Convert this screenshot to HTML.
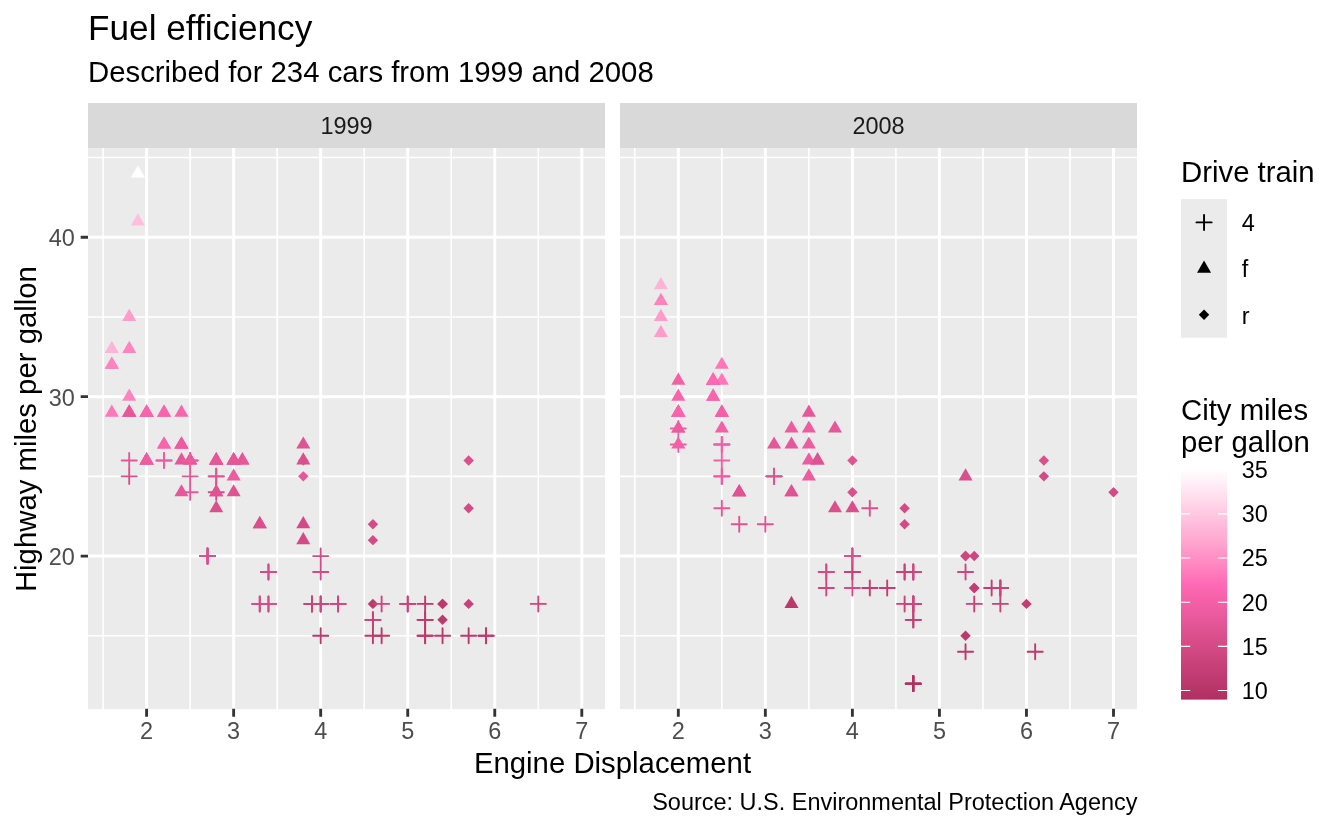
<!DOCTYPE html>
<html lang="en"><head><meta charset="utf-8"><title>Fuel efficiency</title>
<style>html,body{margin:0;padding:0;background:#fff}svg{display:block}text{font-family:"Liberation Sans",Arial,Helvetica,sans-serif}</style></head><body>
<svg width="1344" height="830" viewBox="0 0 1344 830">
<rect width="1344" height="830" fill="#FFFFFF"/>
<text x="88" y="39.8" font-size="35.2" fill="#000">Fuel efficiency</text>
<text x="88" y="81.7" font-size="29.33" fill="#000">Described for 234 cars from 1999 and 2008</text>
<g>
<rect x="88.0" y="103" width="517.0" height="45" fill="#D9D9D9"/>
<text x="346.5" y="133.9" font-size="23.47" fill="#1A1A1A" text-anchor="middle">1999</text>
<rect x="88.0" y="148.0" width="517.0" height="561.1" fill="#EBEBEB"/>
<path d="M88.0 635.77H605.0M88.0 476.37H605.0M88.0 316.97H605.0M88.0 157.56H605.0M103.10 148.0V709.1M190.13 148.0V709.1M277.17 148.0V709.1M364.21 148.0V709.1M451.24 148.0V709.1M538.28 148.0V709.1" stroke="#FFFFFF" stroke-width="1.60" fill="none"/>
<path d="M88.0 556.07H605.0M88.0 396.67H605.0M88.0 237.27H605.0M146.61 148.0V709.1M233.65 148.0V709.1M320.69 148.0V709.1M407.73 148.0V709.1M494.76 148.0V709.1M581.80 148.0V709.1" stroke="#FFFFFF" stroke-width="2.95" fill="none"/>
<g>
<path d="M129.21 404.50L136.23 416.66L122.19 416.66Z" fill="#E65799" stroke="#E65799" stroke-width="0.00" stroke-linejoin="round"/>
<path d="M129.21 404.50L136.23 416.66L122.19 416.66Z" fill="#F965AD" stroke="#F965AD" stroke-width="0.00" stroke-linejoin="round"/>
<path d="M216.24 452.32L223.26 464.48L209.22 464.48Z" fill="#DA4F8C" stroke="#DA4F8C" stroke-width="0.00" stroke-linejoin="round"/>
<path d="M216.24 452.32L223.26 464.48L209.22 464.48Z" fill="#E65799" stroke="#E65799" stroke-width="0.00" stroke-linejoin="round"/>
<path d="M121.64 460.43H136.78M129.21 452.86V468.00" stroke="#E65799" stroke-width="1.89" stroke-linecap="round" fill="none"/>
<path d="M121.64 476.37H136.78M129.21 468.80V483.94" stroke="#DA4F8C" stroke-width="1.89" stroke-linecap="round" fill="none"/>
<path d="M208.67 476.37H223.82M216.24 468.80V483.94" stroke="#D44A86" stroke-width="1.89" stroke-linecap="round" fill="none"/>
<path d="M208.67 476.37H223.82M216.24 468.80V483.94" stroke="#E05393" stroke-width="1.89" stroke-linecap="round" fill="none"/>
<path d="M208.67 492.31H223.82M216.24 484.74V499.88" stroke="#D44A86" stroke-width="1.89" stroke-linecap="round" fill="none"/>
<path d="M463.44 603.89L468.65 598.68L473.86 603.89L468.65 609.11Z" fill="#C84279"/>
<path d="M463.44 460.43L468.65 455.22L473.86 460.43L468.65 465.64Z" fill="#DA4F8C"/>
<path d="M463.44 508.25L468.65 503.04L473.86 508.25L468.65 513.46Z" fill="#D44A86"/>
<path d="M461.08 635.77H476.22M468.65 628.20V643.35" stroke="#BC396C" stroke-width="1.89" stroke-linecap="round" fill="none"/>
<path d="M530.71 603.89H545.85M538.28 596.32V611.47" stroke="#CE467F" stroke-width="1.89" stroke-linecap="round" fill="none"/>
<path d="M181.43 436.38L188.45 448.54L174.41 448.54Z" fill="#ED5CA0" stroke="#ED5CA0" stroke-width="0.00" stroke-linejoin="round"/>
<path d="M242.36 452.32L249.38 464.48L235.34 464.48Z" fill="#E65799" stroke="#E65799" stroke-width="0.00" stroke-linejoin="round"/>
<path d="M181.43 484.21L188.45 496.36L174.41 496.36Z" fill="#E65799" stroke="#E65799" stroke-width="0.00" stroke-linejoin="round"/>
<path d="M233.65 484.21L240.67 496.36L226.63 496.36Z" fill="#E05393" stroke="#E05393" stroke-width="0.00" stroke-linejoin="round"/>
<path d="M259.76 516.09L266.78 528.25L252.74 528.25Z" fill="#DA4F8C" stroke="#DA4F8C" stroke-width="0.00" stroke-linejoin="round"/>
<path d="M259.76 516.09L266.78 528.25L252.74 528.25Z" fill="#DA4F8C" stroke="#DA4F8C" stroke-width="0.00" stroke-linejoin="round"/>
<path d="M303.28 516.09L310.30 528.25L296.26 528.25Z" fill="#D44A86" stroke="#D44A86" stroke-width="0.00" stroke-linejoin="round"/>
<path d="M303.28 532.03L310.30 544.19L296.26 544.19Z" fill="#D44A86" stroke="#D44A86" stroke-width="0.00" stroke-linejoin="round"/>
<path d="M304.41 603.89H319.56M311.99 596.32V611.47" stroke="#C84279" stroke-width="1.89" stroke-linecap="round" fill="none"/>
<path d="M304.41 603.89H319.56M311.99 596.32V611.47" stroke="#CE467F" stroke-width="1.89" stroke-linecap="round" fill="none"/>
<path d="M417.56 603.89H432.70M425.13 596.32V611.47" stroke="#BC396C" stroke-width="1.89" stroke-linecap="round" fill="none"/>
<path d="M417.56 635.77H432.70M425.13 628.20V643.35" stroke="#BC396C" stroke-width="1.89" stroke-linecap="round" fill="none"/>
<path d="M304.41 603.89H319.56M311.99 596.32V611.47" stroke="#C84279" stroke-width="1.89" stroke-linecap="round" fill="none"/>
<path d="M417.56 619.83H432.70M425.13 612.26V627.41" stroke="#BC396C" stroke-width="1.89" stroke-linecap="round" fill="none"/>
<path d="M478.49 635.77H493.63M486.06 628.20V643.35" stroke="#BC396C" stroke-width="1.89" stroke-linecap="round" fill="none"/>
<path d="M417.56 635.77H432.70M425.13 628.20V643.35" stroke="#BC396C" stroke-width="1.89" stroke-linecap="round" fill="none"/>
<path d="M417.56 619.83H432.70M425.13 612.26V627.41" stroke="#BC396C" stroke-width="1.89" stroke-linecap="round" fill="none"/>
<path d="M478.49 635.77H493.63M486.06 628.20V643.35" stroke="#BC396C" stroke-width="1.89" stroke-linecap="round" fill="none"/>
<path d="M367.70 603.89L372.91 598.68L378.12 603.89L372.91 609.11Z" fill="#BC396C"/>
<path d="M437.33 603.89L442.54 598.68L447.75 603.89L442.54 609.11Z" fill="#BC396C"/>
<path d="M313.12 603.89H328.26M320.69 596.32V611.47" stroke="#CE467F" stroke-width="1.89" stroke-linecap="round" fill="none"/>
<path d="M313.12 572.01H328.26M320.69 564.44V579.58" stroke="#D44A86" stroke-width="1.89" stroke-linecap="round" fill="none"/>
<path d="M313.12 603.89H328.26M320.69 596.32V611.47" stroke="#CE467F" stroke-width="1.89" stroke-linecap="round" fill="none"/>
<path d="M400.15 603.89H415.30M407.73 596.32V611.47" stroke="#C84279" stroke-width="1.89" stroke-linecap="round" fill="none"/>
<path d="M330.52 603.89H345.67M338.10 596.32V611.47" stroke="#CE467F" stroke-width="1.89" stroke-linecap="round" fill="none"/>
<path d="M330.52 603.89H345.67M338.10 596.32V611.47" stroke="#CE467F" stroke-width="1.89" stroke-linecap="round" fill="none"/>
<path d="M365.34 619.83H380.48M372.91 612.26V627.41" stroke="#C84279" stroke-width="1.89" stroke-linecap="round" fill="none"/>
<path d="M365.34 619.83H380.48M372.91 612.26V627.41" stroke="#C84279" stroke-width="1.89" stroke-linecap="round" fill="none"/>
<path d="M434.97 635.77H450.11M442.54 628.20V643.35" stroke="#BC396C" stroke-width="1.89" stroke-linecap="round" fill="none"/>
<path d="M298.07 460.43L303.28 455.22L308.49 460.43L303.28 465.64Z" fill="#E65799"/>
<path d="M298.07 476.37L303.28 471.16L308.49 476.37L303.28 481.58Z" fill="#E65799"/>
<path d="M367.70 540.13L372.91 534.92L378.12 540.13L372.91 545.34Z" fill="#D44A86"/>
<path d="M367.70 524.19L372.91 518.98L378.12 524.19L372.91 529.40Z" fill="#D44A86"/>
<path d="M111.80 340.74L118.82 352.90L104.78 352.90Z" fill="#FFB3D6" stroke="#FFB3D6" stroke-width="0.00" stroke-linejoin="round"/>
<path d="M111.80 356.68L118.82 368.84L104.78 368.84Z" fill="#FF83BF" stroke="#FF83BF" stroke-width="0.00" stroke-linejoin="round"/>
<path d="M111.80 356.68L118.82 368.84L104.78 368.84Z" fill="#FF90C5" stroke="#FF90C5" stroke-width="0.00" stroke-linejoin="round"/>
<path d="M111.80 404.50L118.82 416.66L104.78 416.66Z" fill="#FF77BA" stroke="#FF77BA" stroke-width="0.00" stroke-linejoin="round"/>
<path d="M111.80 356.68L118.82 368.84L104.78 368.84Z" fill="#FF83BF" stroke="#FF83BF" stroke-width="0.00" stroke-linejoin="round"/>
<path d="M181.43 452.32L188.45 464.48L174.41 464.48Z" fill="#E65799" stroke="#E65799" stroke-width="0.00" stroke-linejoin="round"/>
<path d="M181.43 436.38L188.45 448.54L174.41 448.54Z" fill="#E65799" stroke="#E65799" stroke-width="0.00" stroke-linejoin="round"/>
<path d="M190.13 452.32L197.15 464.48L183.11 464.48Z" fill="#E65799" stroke="#E65799" stroke-width="0.00" stroke-linejoin="round"/>
<path d="M190.13 452.32L197.15 464.48L183.11 464.48Z" fill="#E65799" stroke="#E65799" stroke-width="0.00" stroke-linejoin="round"/>
<path d="M146.61 452.32L153.63 464.48L139.59 464.48Z" fill="#ED5CA0" stroke="#ED5CA0" stroke-width="0.00" stroke-linejoin="round"/>
<path d="M146.61 404.50L153.63 416.66L139.59 416.66Z" fill="#ED5CA0" stroke="#ED5CA0" stroke-width="0.00" stroke-linejoin="round"/>
<path d="M313.12 556.07H328.26M320.69 548.50V563.64" stroke="#D44A86" stroke-width="1.89" stroke-linecap="round" fill="none"/>
<path d="M374.04 603.89H389.19M381.61 596.32V611.47" stroke="#CE467F" stroke-width="1.89" stroke-linecap="round" fill="none"/>
<path d="M313.12 635.77H328.26M320.69 628.20V643.35" stroke="#BC396C" stroke-width="1.89" stroke-linecap="round" fill="none"/>
<path d="M365.34 635.77H380.48M372.91 628.20V643.35" stroke="#BC396C" stroke-width="1.89" stroke-linecap="round" fill="none"/>
<path d="M437.33 603.89L442.54 598.68L447.75 603.89L442.54 609.11Z" fill="#BC396C"/>
<path d="M437.33 619.83L442.54 614.62L447.75 619.83L442.54 625.05Z" fill="#BC396C"/>
<path d="M313.12 603.89H328.26M320.69 596.32V611.47" stroke="#CE467F" stroke-width="1.89" stroke-linecap="round" fill="none"/>
<path d="M400.15 603.89H415.30M407.73 596.32V611.47" stroke="#C84279" stroke-width="1.89" stroke-linecap="round" fill="none"/>
<path d="M181.43 404.50L188.45 416.66L174.41 416.66Z" fill="#F965AD" stroke="#F965AD" stroke-width="0.00" stroke-linejoin="round"/>
<path d="M181.43 436.38L188.45 448.54L174.41 448.54Z" fill="#ED5CA0" stroke="#ED5CA0" stroke-width="0.00" stroke-linejoin="round"/>
<path d="M233.65 452.32L240.67 464.48L226.63 464.48Z" fill="#E65799" stroke="#E65799" stroke-width="0.00" stroke-linejoin="round"/>
<path d="M233.65 468.26L240.67 480.42L226.63 480.42Z" fill="#ED5CA0" stroke="#ED5CA0" stroke-width="0.00" stroke-linejoin="round"/>
<path d="M252.19 603.89H267.33M259.76 596.32V611.47" stroke="#CE467F" stroke-width="1.89" stroke-linecap="round" fill="none"/>
<path d="M252.19 603.89H267.33M259.76 596.32V611.47" stroke="#D44A86" stroke-width="1.89" stroke-linecap="round" fill="none"/>
<path d="M242.36 452.32L249.38 464.48L235.34 464.48Z" fill="#E65799" stroke="#E65799" stroke-width="0.00" stroke-linejoin="round"/>
<path d="M303.28 452.32L310.30 464.48L296.26 464.48Z" fill="#DA4F8C" stroke="#DA4F8C" stroke-width="0.00" stroke-linejoin="round"/>
<path d="M303.28 436.38L310.30 448.54L296.26 448.54Z" fill="#E05393" stroke="#E05393" stroke-width="0.00" stroke-linejoin="round"/>
<path d="M182.56 476.37H197.70M190.13 468.80V483.94" stroke="#E65799" stroke-width="1.89" stroke-linecap="round" fill="none"/>
<path d="M182.56 492.31H197.70M190.13 484.74V499.88" stroke="#E65799" stroke-width="1.89" stroke-linecap="round" fill="none"/>
<path d="M156.45 460.43H171.59M164.02 452.86V468.00" stroke="#F965AD" stroke-width="1.89" stroke-linecap="round" fill="none"/>
<path d="M156.45 460.43H171.59M164.02 452.86V468.00" stroke="#ED5CA0" stroke-width="1.89" stroke-linecap="round" fill="none"/>
<path d="M182.56 460.43H197.70M190.13 452.86V468.00" stroke="#ED5CA0" stroke-width="1.89" stroke-linecap="round" fill="none"/>
<path d="M182.56 460.43H197.70M190.13 452.86V468.00" stroke="#ED5CA0" stroke-width="1.89" stroke-linecap="round" fill="none"/>
<path d="M199.97 556.07H215.11M207.54 548.50V563.64" stroke="#D44A86" stroke-width="1.89" stroke-linecap="round" fill="none"/>
<path d="M199.97 556.07H215.11M207.54 548.50V563.64" stroke="#DA4F8C" stroke-width="1.89" stroke-linecap="round" fill="none"/>
<path d="M260.90 572.01H276.04M268.47 564.44V579.58" stroke="#D44A86" stroke-width="1.89" stroke-linecap="round" fill="none"/>
<path d="M260.90 603.89H276.04M268.47 596.32V611.47" stroke="#D44A86" stroke-width="1.89" stroke-linecap="round" fill="none"/>
<path d="M164.02 404.50L171.04 416.66L157.00 416.66Z" fill="#F965AD" stroke="#F965AD" stroke-width="0.00" stroke-linejoin="round"/>
<path d="M164.02 436.38L171.04 448.54L157.00 448.54Z" fill="#F965AD" stroke="#F965AD" stroke-width="0.00" stroke-linejoin="round"/>
<path d="M233.65 452.32L240.67 464.48L226.63 464.48Z" fill="#E65799" stroke="#E65799" stroke-width="0.00" stroke-linejoin="round"/>
<path d="M233.65 452.32L240.67 464.48L226.63 464.48Z" fill="#E65799" stroke="#E65799" stroke-width="0.00" stroke-linejoin="round"/>
<path d="M164.02 436.38L171.04 448.54L157.00 448.54Z" fill="#F965AD" stroke="#F965AD" stroke-width="0.00" stroke-linejoin="round"/>
<path d="M164.02 404.50L171.04 416.66L157.00 416.66Z" fill="#F965AD" stroke="#F965AD" stroke-width="0.00" stroke-linejoin="round"/>
<path d="M233.65 452.32L240.67 464.48L226.63 464.48Z" fill="#E65799" stroke="#E65799" stroke-width="0.00" stroke-linejoin="round"/>
<path d="M233.65 452.32L240.67 464.48L226.63 464.48Z" fill="#E65799" stroke="#E65799" stroke-width="0.00" stroke-linejoin="round"/>
<path d="M129.21 388.56L136.23 400.72L122.19 400.72Z" fill="#FF83BF" stroke="#FF83BF" stroke-width="0.00" stroke-linejoin="round"/>
<path d="M129.21 340.74L136.23 352.90L122.19 352.90Z" fill="#FF83BF" stroke="#FF83BF" stroke-width="0.00" stroke-linejoin="round"/>
<path d="M129.21 308.86L136.23 321.02L122.19 321.02Z" fill="#FF9CCB" stroke="#FF9CCB" stroke-width="0.00" stroke-linejoin="round"/>
<path d="M374.04 635.77H389.19M381.61 628.20V643.35" stroke="#BC396C" stroke-width="1.89" stroke-linecap="round" fill="none"/>
<path d="M199.97 556.07H215.11M207.54 548.50V563.64" stroke="#D44A86" stroke-width="1.89" stroke-linecap="round" fill="none"/>
<path d="M199.97 556.07H215.11M207.54 548.50V563.64" stroke="#DA4F8C" stroke-width="1.89" stroke-linecap="round" fill="none"/>
<path d="M260.90 603.89H276.04M268.47 596.32V611.47" stroke="#D44A86" stroke-width="1.89" stroke-linecap="round" fill="none"/>
<path d="M260.90 572.01H276.04M268.47 564.44V579.58" stroke="#D44A86" stroke-width="1.89" stroke-linecap="round" fill="none"/>
<path d="M146.61 404.50L153.63 416.66L139.59 416.66Z" fill="#F965AD" stroke="#F965AD" stroke-width="0.00" stroke-linejoin="round"/>
<path d="M146.61 452.32L153.63 464.48L139.59 464.48Z" fill="#ED5CA0" stroke="#ED5CA0" stroke-width="0.00" stroke-linejoin="round"/>
<path d="M216.24 484.21L223.26 496.36L209.22 496.36Z" fill="#E05393" stroke="#E05393" stroke-width="0.00" stroke-linejoin="round"/>
<path d="M137.91 165.40L144.93 177.56L130.89 177.56Z" fill="#FFEAF3" stroke="#FFEAF3" stroke-width="0.00" stroke-linejoin="round"/>
<path d="M146.61 404.50L153.63 416.66L139.59 416.66Z" fill="#F965AD" stroke="#F965AD" stroke-width="0.00" stroke-linejoin="round"/>
<path d="M146.61 452.32L153.63 464.48L139.59 464.48Z" fill="#ED5CA0" stroke="#ED5CA0" stroke-width="0.00" stroke-linejoin="round"/>
<path d="M216.24 500.15L223.26 512.30L209.22 512.30Z" fill="#DA4F8C" stroke="#DA4F8C" stroke-width="0.00" stroke-linejoin="round"/>
<path d="M216.24 484.21L223.26 496.36L209.22 496.36Z" fill="#E05393" stroke="#E05393" stroke-width="0.00" stroke-linejoin="round"/>
<path d="M137.91 165.40L144.93 177.56L130.89 177.56Z" fill="#FFFFFF" stroke="#FFFFFF" stroke-width="0.00" stroke-linejoin="round"/>
<path d="M137.91 213.22L144.93 225.38L130.89 225.38Z" fill="#FFBEDC" stroke="#FFBEDC" stroke-width="0.00" stroke-linejoin="round"/>
<path d="M146.61 404.50L153.63 416.66L139.59 416.66Z" fill="#F965AD" stroke="#F965AD" stroke-width="0.00" stroke-linejoin="round"/>
<path d="M146.61 452.32L153.63 464.48L139.59 464.48Z" fill="#ED5CA0" stroke="#ED5CA0" stroke-width="0.00" stroke-linejoin="round"/>
<path d="M129.21 404.50L136.23 416.66L122.19 416.66Z" fill="#F965AD" stroke="#F965AD" stroke-width="0.00" stroke-linejoin="round"/>
<path d="M129.21 404.50L136.23 416.66L122.19 416.66Z" fill="#E65799" stroke="#E65799" stroke-width="0.00" stroke-linejoin="round"/>
<path d="M216.24 452.32L223.26 464.48L209.22 464.48Z" fill="#DA4F8C" stroke="#DA4F8C" stroke-width="0.00" stroke-linejoin="round"/>
<path d="M216.24 452.32L223.26 464.48L209.22 464.48Z" fill="#E65799" stroke="#E65799" stroke-width="0.00" stroke-linejoin="round"/>
</g>
<text x="146.61" y="738.9" font-size="23.47" fill="#4D4D4D" text-anchor="middle">2</text>
<text x="233.65" y="738.9" font-size="23.47" fill="#4D4D4D" text-anchor="middle">3</text>
<text x="320.69" y="738.9" font-size="23.47" fill="#4D4D4D" text-anchor="middle">4</text>
<text x="407.73" y="738.9" font-size="23.47" fill="#4D4D4D" text-anchor="middle">5</text>
<text x="494.76" y="738.9" font-size="23.47" fill="#4D4D4D" text-anchor="middle">6</text>
<text x="581.80" y="738.9" font-size="23.47" fill="#4D4D4D" text-anchor="middle">7</text>
<path d="M146.61 708.8V716.7M233.65 708.8V716.7M320.69 708.8V716.7M407.73 708.8V716.7M494.76 708.8V716.7M581.80 708.8V716.7" stroke="#333333" stroke-width="2.85" fill="none"/>
</g>
<g>
<rect x="620.0" y="103" width="517.0" height="45" fill="#D9D9D9"/>
<text x="878.5" y="133.9" font-size="23.47" fill="#1A1A1A" text-anchor="middle">2008</text>
<rect x="620.0" y="148.0" width="517.0" height="561.1" fill="#EBEBEB"/>
<path d="M620.0 635.77H1137.0M620.0 476.37H1137.0M620.0 316.97H1137.0M620.0 157.56H1137.0M634.80 148.0V709.1M721.83 148.0V709.1M808.87 148.0V709.1M895.91 148.0V709.1M982.94 148.0V709.1M1069.98 148.0V709.1" stroke="#FFFFFF" stroke-width="1.60" fill="none"/>
<path d="M620.0 556.07H1137.0M620.0 396.67H1137.0M620.0 237.27H1137.0M678.31 148.0V709.1M765.35 148.0V709.1M852.39 148.0V709.1M939.43 148.0V709.1M1026.46 148.0V709.1M1113.50 148.0V709.1" stroke="#FFFFFF" stroke-width="2.95" fill="none"/>
<g>
<path d="M678.31 372.62L685.33 384.78L671.29 384.78Z" fill="#F360A6" stroke="#F360A6" stroke-width="0.00" stroke-linejoin="round"/>
<path d="M678.31 388.56L685.33 400.72L671.29 400.72Z" fill="#F965AD" stroke="#F965AD" stroke-width="0.00" stroke-linejoin="round"/>
<path d="M774.06 436.38L781.08 448.54L767.04 448.54Z" fill="#E65799" stroke="#E65799" stroke-width="0.00" stroke-linejoin="round"/>
<path d="M670.74 428.55H685.89M678.31 420.98V436.12" stroke="#F360A6" stroke-width="1.89" stroke-linecap="round" fill="none"/>
<path d="M670.74 444.49H685.89M678.31 436.92V452.06" stroke="#ED5CA0" stroke-width="1.89" stroke-linecap="round" fill="none"/>
<path d="M766.48 476.37H781.63M774.06 468.80V483.94" stroke="#E05393" stroke-width="1.89" stroke-linecap="round" fill="none"/>
<path d="M766.48 476.37H781.63M774.06 468.80V483.94" stroke="#D44A86" stroke-width="1.89" stroke-linecap="round" fill="none"/>
<path d="M766.48 476.37H781.63M774.06 468.80V483.94" stroke="#E05393" stroke-width="1.89" stroke-linecap="round" fill="none"/>
<path d="M862.22 508.25H877.37M869.80 500.68V515.82" stroke="#DA4F8C" stroke-width="1.89" stroke-linecap="round" fill="none"/>
<path d="M960.32 556.07L965.54 550.86L970.75 556.07L965.54 561.29Z" fill="#CE467F"/>
<path d="M960.32 635.77L965.54 630.56L970.75 635.77L965.54 640.99Z" fill="#BC396C"/>
<path d="M960.32 556.07L965.54 550.86L970.75 556.07L965.54 561.29Z" fill="#CE467F"/>
<path d="M1021.25 603.89L1026.46 598.68L1031.68 603.89L1026.46 609.11Z" fill="#C23D73"/>
<path d="M1038.66 460.43L1043.87 455.22L1049.08 460.43L1043.87 465.64Z" fill="#DA4F8C"/>
<path d="M1038.66 476.37L1043.87 471.16L1049.08 476.37L1043.87 481.58Z" fill="#D44A86"/>
<path d="M1108.29 492.31L1113.50 487.10L1118.71 492.31L1113.50 497.52Z" fill="#D44A86"/>
<path d="M957.97 572.01H973.11M965.54 564.44V579.58" stroke="#CE467F" stroke-width="1.89" stroke-linecap="round" fill="none"/>
<path d="M957.97 651.71H973.11M965.54 644.14V659.29" stroke="#BC396C" stroke-width="1.89" stroke-linecap="round" fill="none"/>
<path d="M713.13 388.56L720.15 400.72L706.11 400.72Z" fill="#FF69B4" stroke="#FF69B4" stroke-width="0.00" stroke-linejoin="round"/>
<path d="M808.87 404.50L815.89 416.66L801.85 416.66Z" fill="#E65799" stroke="#E65799" stroke-width="0.00" stroke-linejoin="round"/>
<path d="M817.57 452.32L824.59 464.48L810.55 464.48Z" fill="#E05393" stroke="#E05393" stroke-width="0.00" stroke-linejoin="round"/>
<path d="M791.46 484.21L798.48 496.36L784.44 496.36Z" fill="#E05393" stroke="#E05393" stroke-width="0.00" stroke-linejoin="round"/>
<path d="M791.46 484.21L798.48 496.36L784.44 496.36Z" fill="#E05393" stroke="#E05393" stroke-width="0.00" stroke-linejoin="round"/>
<path d="M791.46 595.79L798.48 607.95L784.44 607.95Z" fill="#BC396C" stroke="#BC396C" stroke-width="0.00" stroke-linejoin="round"/>
<path d="M834.98 500.15L842.00 512.30L827.96 512.30Z" fill="#DA4F8C" stroke="#DA4F8C" stroke-width="0.00" stroke-linejoin="round"/>
<path d="M852.39 500.15L859.41 512.30L845.37 512.30Z" fill="#DA4F8C" stroke="#DA4F8C" stroke-width="0.00" stroke-linejoin="round"/>
<path d="M818.71 572.01H833.85M826.28 564.44V579.58" stroke="#D44A86" stroke-width="1.89" stroke-linecap="round" fill="none"/>
<path d="M818.71 587.95H833.85M826.28 580.38V595.52" stroke="#CE467F" stroke-width="1.89" stroke-linecap="round" fill="none"/>
<path d="M905.74 572.01H920.89M913.31 564.44V579.58" stroke="#CE467F" stroke-width="1.89" stroke-linecap="round" fill="none"/>
<path d="M905.74 572.01H920.89M913.31 564.44V579.58" stroke="#CE467F" stroke-width="1.89" stroke-linecap="round" fill="none"/>
<path d="M905.74 683.60H920.89M913.31 676.02V691.17" stroke="#B03060" stroke-width="1.89" stroke-linecap="round" fill="none"/>
<path d="M905.74 603.89H920.89M913.31 596.32V611.47" stroke="#C84279" stroke-width="1.89" stroke-linecap="round" fill="none"/>
<path d="M905.74 683.60H920.89M913.31 676.02V691.17" stroke="#B03060" stroke-width="1.89" stroke-linecap="round" fill="none"/>
<path d="M905.74 603.89H920.89M913.31 596.32V611.47" stroke="#C84279" stroke-width="1.89" stroke-linecap="round" fill="none"/>
<path d="M992.78 587.95H1007.92M1000.35 580.38V595.52" stroke="#C84279" stroke-width="1.89" stroke-linecap="round" fill="none"/>
<path d="M905.74 619.83H920.89M913.31 612.26V627.41" stroke="#C23D73" stroke-width="1.89" stroke-linecap="round" fill="none"/>
<path d="M905.74 683.60H920.89M913.31 676.02V691.17" stroke="#B03060" stroke-width="1.89" stroke-linecap="round" fill="none"/>
<path d="M905.74 603.89H920.89M913.31 596.32V611.47" stroke="#C84279" stroke-width="1.89" stroke-linecap="round" fill="none"/>
<path d="M905.74 603.89H920.89M913.31 596.32V611.47" stroke="#C84279" stroke-width="1.89" stroke-linecap="round" fill="none"/>
<path d="M905.74 619.83H920.89M913.31 612.26V627.41" stroke="#C23D73" stroke-width="1.89" stroke-linecap="round" fill="none"/>
<path d="M905.74 683.60H920.89M913.31 676.02V691.17" stroke="#B03060" stroke-width="1.89" stroke-linecap="round" fill="none"/>
<path d="M992.78 603.89H1007.92M1000.35 596.32V611.47" stroke="#C84279" stroke-width="1.89" stroke-linecap="round" fill="none"/>
<path d="M969.03 587.95L974.24 582.74L979.45 587.95L974.24 593.17Z" fill="#C23D73"/>
<path d="M844.82 572.01H859.96M852.39 564.44V579.58" stroke="#C84279" stroke-width="1.89" stroke-linecap="round" fill="none"/>
<path d="M897.04 572.01H912.18M904.61 564.44V579.58" stroke="#C84279" stroke-width="1.89" stroke-linecap="round" fill="none"/>
<path d="M897.04 603.89H912.18M904.61 596.32V611.47" stroke="#C84279" stroke-width="1.89" stroke-linecap="round" fill="none"/>
<path d="M966.67 603.89H981.81M974.24 596.32V611.47" stroke="#C84279" stroke-width="1.89" stroke-linecap="round" fill="none"/>
<path d="M847.18 460.43L852.39 455.22L857.60 460.43L852.39 465.64Z" fill="#E05393"/>
<path d="M847.18 492.31L852.39 487.10L857.60 492.31L852.39 497.52Z" fill="#DA4F8C"/>
<path d="M899.40 508.25L904.61 503.04L909.82 508.25L904.61 513.46Z" fill="#D44A86"/>
<path d="M899.40 524.19L904.61 518.98L909.82 524.19L904.61 529.40Z" fill="#D44A86"/>
<path d="M969.03 556.07L974.24 550.86L979.45 556.07L974.24 561.29Z" fill="#CE467F"/>
<path d="M660.91 324.80L667.93 336.96L653.89 336.96Z" fill="#FF9CCB" stroke="#FF9CCB" stroke-width="0.00" stroke-linejoin="round"/>
<path d="M660.91 292.92L667.93 305.08L653.89 305.08Z" fill="#FF90C5" stroke="#FF90C5" stroke-width="0.00" stroke-linejoin="round"/>
<path d="M660.91 292.92L667.93 305.08L653.89 305.08Z" fill="#FF83BF" stroke="#FF83BF" stroke-width="0.00" stroke-linejoin="round"/>
<path d="M678.31 404.50L685.33 416.66L671.29 416.66Z" fill="#F965AD" stroke="#F965AD" stroke-width="0.00" stroke-linejoin="round"/>
<path d="M713.13 388.56L720.15 400.72L706.11 400.72Z" fill="#F965AD" stroke="#F965AD" stroke-width="0.00" stroke-linejoin="round"/>
<path d="M713.13 372.62L720.15 384.78L706.11 384.78Z" fill="#F965AD" stroke="#F965AD" stroke-width="0.00" stroke-linejoin="round"/>
<path d="M791.46 420.44L798.48 432.60L784.44 432.60Z" fill="#ED5CA0" stroke="#ED5CA0" stroke-width="0.00" stroke-linejoin="round"/>
<path d="M678.31 420.44L685.33 432.60L671.29 432.60Z" fill="#F360A6" stroke="#F360A6" stroke-width="0.00" stroke-linejoin="round"/>
<path d="M678.31 436.38L685.33 448.54L671.29 448.54Z" fill="#F360A6" stroke="#F360A6" stroke-width="0.00" stroke-linejoin="round"/>
<path d="M739.24 484.21L746.26 496.36L732.22 496.36Z" fill="#E05393" stroke="#E05393" stroke-width="0.00" stroke-linejoin="round"/>
<path d="M739.24 484.21L746.26 496.36L732.22 496.36Z" fill="#DA4F8C" stroke="#DA4F8C" stroke-width="0.00" stroke-linejoin="round"/>
<path d="M739.24 484.21L746.26 496.36L732.22 496.36Z" fill="#E05393" stroke="#E05393" stroke-width="0.00" stroke-linejoin="round"/>
<path d="M757.78 524.19H772.92M765.35 516.62V531.76" stroke="#E05393" stroke-width="1.89" stroke-linecap="round" fill="none"/>
<path d="M818.71 572.01H833.85M826.28 564.44V579.58" stroke="#D44A86" stroke-width="1.89" stroke-linecap="round" fill="none"/>
<path d="M905.74 683.60H920.89M913.31 676.02V691.17" stroke="#B03060" stroke-width="1.89" stroke-linecap="round" fill="none"/>
<path d="M905.74 572.01H920.89M913.31 564.44V579.58" stroke="#CE467F" stroke-width="1.89" stroke-linecap="round" fill="none"/>
<path d="M992.78 587.95H1007.92M1000.35 580.38V595.52" stroke="#C84279" stroke-width="1.89" stroke-linecap="round" fill="none"/>
<path d="M1027.60 651.71H1042.74M1035.17 644.14V659.29" stroke="#BC396C" stroke-width="1.89" stroke-linecap="round" fill="none"/>
<path d="M862.22 587.95H877.37M869.80 580.38V595.52" stroke="#C23D73" stroke-width="1.89" stroke-linecap="round" fill="none"/>
<path d="M879.63 587.95H894.78M887.20 580.38V595.52" stroke="#C23D73" stroke-width="1.89" stroke-linecap="round" fill="none"/>
<path d="M969.03 587.95L974.24 582.74L979.45 587.95L974.24 593.17Z" fill="#C23D73"/>
<path d="M844.82 572.01H859.96M852.39 564.44V579.58" stroke="#C84279" stroke-width="1.89" stroke-linecap="round" fill="none"/>
<path d="M897.04 572.01H912.18M904.61 564.44V579.58" stroke="#C84279" stroke-width="1.89" stroke-linecap="round" fill="none"/>
<path d="M721.83 372.62L728.85 384.78L714.81 384.78Z" fill="#FF77BA" stroke="#FF77BA" stroke-width="0.00" stroke-linejoin="round"/>
<path d="M721.83 356.68L728.85 368.84L714.81 368.84Z" fill="#FF77BA" stroke="#FF77BA" stroke-width="0.00" stroke-linejoin="round"/>
<path d="M808.87 436.38L815.89 448.54L801.85 448.54Z" fill="#ED5CA0" stroke="#ED5CA0" stroke-width="0.00" stroke-linejoin="round"/>
<path d="M808.87 452.32L815.89 464.48L801.85 464.48Z" fill="#ED5CA0" stroke="#ED5CA0" stroke-width="0.00" stroke-linejoin="round"/>
<path d="M808.87 468.26L815.89 480.42L801.85 480.42Z" fill="#ED5CA0" stroke="#ED5CA0" stroke-width="0.00" stroke-linejoin="round"/>
<path d="M844.82 556.07H859.96M852.39 548.50V563.64" stroke="#CE467F" stroke-width="1.89" stroke-linecap="round" fill="none"/>
<path d="M984.08 587.95H999.22M991.65 580.38V595.52" stroke="#C23D73" stroke-width="1.89" stroke-linecap="round" fill="none"/>
<path d="M834.98 420.44L842.00 432.60L827.96 432.60Z" fill="#E65799" stroke="#E65799" stroke-width="0.00" stroke-linejoin="round"/>
<path d="M965.54 468.26L972.56 480.42L958.52 480.42Z" fill="#DA4F8C" stroke="#DA4F8C" stroke-width="0.00" stroke-linejoin="round"/>
<path d="M714.26 444.49H729.40M721.83 436.92V452.06" stroke="#F360A6" stroke-width="1.89" stroke-linecap="round" fill="none"/>
<path d="M714.26 476.37H729.40M721.83 468.80V483.94" stroke="#ED5CA0" stroke-width="1.89" stroke-linecap="round" fill="none"/>
<path d="M714.26 460.43H729.40M721.83 452.86V468.00" stroke="#F360A6" stroke-width="1.89" stroke-linecap="round" fill="none"/>
<path d="M714.26 508.25H729.40M721.83 500.68V515.82" stroke="#E65799" stroke-width="1.89" stroke-linecap="round" fill="none"/>
<path d="M714.26 476.37H729.40M721.83 468.80V483.94" stroke="#F360A6" stroke-width="1.89" stroke-linecap="round" fill="none"/>
<path d="M714.26 444.49H729.40M721.83 436.92V452.06" stroke="#F360A6" stroke-width="1.89" stroke-linecap="round" fill="none"/>
<path d="M714.26 476.37H729.40M721.83 468.80V483.94" stroke="#ED5CA0" stroke-width="1.89" stroke-linecap="round" fill="none"/>
<path d="M714.26 444.49H729.40M721.83 436.92V452.06" stroke="#F360A6" stroke-width="1.89" stroke-linecap="round" fill="none"/>
<path d="M844.82 556.07H859.96M852.39 548.50V563.64" stroke="#DA4F8C" stroke-width="1.89" stroke-linecap="round" fill="none"/>
<path d="M905.74 603.89H920.89M913.31 596.32V611.47" stroke="#CE467F" stroke-width="1.89" stroke-linecap="round" fill="none"/>
<path d="M713.13 372.62L720.15 384.78L706.11 384.78Z" fill="#F965AD" stroke="#F965AD" stroke-width="0.00" stroke-linejoin="round"/>
<path d="M713.13 372.62L720.15 384.78L706.11 384.78Z" fill="#F965AD" stroke="#F965AD" stroke-width="0.00" stroke-linejoin="round"/>
<path d="M808.87 420.44L815.89 432.60L801.85 432.60Z" fill="#ED5CA0" stroke="#ED5CA0" stroke-width="0.00" stroke-linejoin="round"/>
<path d="M713.13 372.62L720.15 384.78L706.11 384.78Z" fill="#F965AD" stroke="#F965AD" stroke-width="0.00" stroke-linejoin="round"/>
<path d="M713.13 372.62L720.15 384.78L706.11 384.78Z" fill="#FF69B4" stroke="#FF69B4" stroke-width="0.00" stroke-linejoin="round"/>
<path d="M791.46 436.38L798.48 448.54L784.44 448.54Z" fill="#E65799" stroke="#E65799" stroke-width="0.00" stroke-linejoin="round"/>
<path d="M660.91 276.98L667.93 289.14L653.89 289.14Z" fill="#FFB3D6" stroke="#FFB3D6" stroke-width="0.00" stroke-linejoin="round"/>
<path d="M660.91 308.86L667.93 321.02L653.89 321.02Z" fill="#FF9CCB" stroke="#FF9CCB" stroke-width="0.00" stroke-linejoin="round"/>
<path d="M992.78 587.95H1007.92M1000.35 580.38V595.52" stroke="#C84279" stroke-width="1.89" stroke-linecap="round" fill="none"/>
<path d="M731.67 524.19H746.81M739.24 516.62V531.76" stroke="#E05393" stroke-width="1.89" stroke-linecap="round" fill="none"/>
<path d="M844.82 587.95H859.96M852.39 580.38V595.52" stroke="#D44A86" stroke-width="1.89" stroke-linecap="round" fill="none"/>
<path d="M844.82 556.07H859.96M852.39 548.50V563.64" stroke="#DA4F8C" stroke-width="1.89" stroke-linecap="round" fill="none"/>
<path d="M678.31 404.50L685.33 416.66L671.29 416.66Z" fill="#F965AD" stroke="#F965AD" stroke-width="0.00" stroke-linejoin="round"/>
<path d="M678.31 404.50L685.33 416.66L671.29 416.66Z" fill="#FF69B4" stroke="#FF69B4" stroke-width="0.00" stroke-linejoin="round"/>
<path d="M678.31 404.50L685.33 416.66L671.29 416.66Z" fill="#FF69B4" stroke="#FF69B4" stroke-width="0.00" stroke-linejoin="round"/>
<path d="M678.31 404.50L685.33 416.66L671.29 416.66Z" fill="#F965AD" stroke="#F965AD" stroke-width="0.00" stroke-linejoin="round"/>
<path d="M721.83 404.50L728.85 416.66L714.81 416.66Z" fill="#F965AD" stroke="#F965AD" stroke-width="0.00" stroke-linejoin="round"/>
<path d="M721.83 404.50L728.85 416.66L714.81 416.66Z" fill="#F965AD" stroke="#F965AD" stroke-width="0.00" stroke-linejoin="round"/>
<path d="M721.83 420.44L728.85 432.60L714.81 432.60Z" fill="#F360A6" stroke="#F360A6" stroke-width="0.00" stroke-linejoin="round"/>
<path d="M721.83 404.50L728.85 416.66L714.81 416.66Z" fill="#F360A6" stroke="#F360A6" stroke-width="0.00" stroke-linejoin="round"/>
<path d="M678.31 420.44L685.33 432.60L671.29 432.60Z" fill="#ED5CA0" stroke="#ED5CA0" stroke-width="0.00" stroke-linejoin="round"/>
<path d="M678.31 404.50L685.33 416.66L671.29 416.66Z" fill="#F965AD" stroke="#F965AD" stroke-width="0.00" stroke-linejoin="round"/>
<path d="M817.57 452.32L824.59 464.48L810.55 464.48Z" fill="#E05393" stroke="#E05393" stroke-width="0.00" stroke-linejoin="round"/>
</g>
<text x="678.31" y="738.9" font-size="23.47" fill="#4D4D4D" text-anchor="middle">2</text>
<text x="765.35" y="738.9" font-size="23.47" fill="#4D4D4D" text-anchor="middle">3</text>
<text x="852.39" y="738.9" font-size="23.47" fill="#4D4D4D" text-anchor="middle">4</text>
<text x="939.43" y="738.9" font-size="23.47" fill="#4D4D4D" text-anchor="middle">5</text>
<text x="1026.46" y="738.9" font-size="23.47" fill="#4D4D4D" text-anchor="middle">6</text>
<text x="1113.50" y="738.9" font-size="23.47" fill="#4D4D4D" text-anchor="middle">7</text>
<path d="M678.31 708.8V716.7M765.35 708.8V716.7M852.39 708.8V716.7M939.43 708.8V716.7M1026.46 708.8V716.7M1113.50 708.8V716.7" stroke="#333333" stroke-width="2.85" fill="none"/>
</g>
<text x="74.8" y="565.27" font-size="23.47" fill="#4D4D4D" text-anchor="end">20</text>
<text x="74.8" y="405.87" font-size="23.47" fill="#4D4D4D" text-anchor="end">30</text>
<text x="74.8" y="246.47" font-size="23.47" fill="#4D4D4D" text-anchor="end">40</text>
<path d="M80.67 556.07H88.0M80.67 396.67H88.0M80.67 237.27H88.0" stroke="#333333" stroke-width="2.85" fill="none"/>
<text x="612.5" y="772.9" font-size="29.33" fill="#000" text-anchor="middle">Engine Displacement</text>
<text transform="translate(36.1 429.1) rotate(-90)" font-size="29.33" fill="#000" text-anchor="middle">Highway miles per gallon</text>
<text x="1137.5" y="809.7" font-size="23.47" fill="#000" text-anchor="end">Source: U.S. Environmental Protection Agency</text>
<text x="1181" y="181.8" font-size="29.33" fill="#000">Drive train</text>
<rect x="1181" y="199.1" width="46.1" height="138.6" fill="#EBEBEB"/>
<path d="M1196.48 222.40H1211.62M1204.05 214.83V229.97" stroke="#000000" stroke-width="1.89" stroke-linecap="round" fill="none"/>
<text x="1241.7" y="231.10" font-size="23.47" fill="#000">4</text>
<path d="M1204.05 260.49L1211.07 272.65L1197.03 272.65Z" fill="#000000" stroke="#000000" stroke-width="0.00" stroke-linejoin="round"/>
<text x="1241.7" y="277.30" font-size="23.47" fill="#000">f</text>
<path d="M1198.84 314.80L1204.05 309.59L1209.26 314.80L1204.05 320.01Z" fill="#000000"/>
<text x="1241.7" y="323.50" font-size="23.47" fill="#000">r</text>
<text x="1181" y="419.8" font-size="29.33" fill="#000">City miles</text>
<text x="1181" y="452.4" font-size="29.33" fill="#000">per gallon</text>
<defs><linearGradient id="cb" x1="0" y1="0" x2="0" y2="1"><stop offset="0.0000" stop-color="#FFFFFF"/><stop offset="0.0167" stop-color="#FFFAFC"/><stop offset="0.0333" stop-color="#FFF6FA"/><stop offset="0.0500" stop-color="#FFF1F7"/><stop offset="0.0667" stop-color="#FFECF5"/><stop offset="0.0833" stop-color="#FFE8F2"/><stop offset="0.1000" stop-color="#FFE3F0"/><stop offset="0.1167" stop-color="#FFDEED"/><stop offset="0.1333" stop-color="#FFDAEB"/><stop offset="0.1500" stop-color="#FFD5E8"/><stop offset="0.1667" stop-color="#FFD0E6"/><stop offset="0.1833" stop-color="#FFCBE3"/><stop offset="0.2000" stop-color="#FFC7E0"/><stop offset="0.2167" stop-color="#FFC2DE"/><stop offset="0.2333" stop-color="#FFBDDB"/><stop offset="0.2500" stop-color="#FFB8D9"/><stop offset="0.2667" stop-color="#FFB3D6"/><stop offset="0.2833" stop-color="#FFAFD4"/><stop offset="0.3000" stop-color="#FFAAD1"/><stop offset="0.3167" stop-color="#FFA5CF"/><stop offset="0.3333" stop-color="#FFA0CD"/><stop offset="0.3500" stop-color="#FF9ACA"/><stop offset="0.3667" stop-color="#FF95C8"/><stop offset="0.3833" stop-color="#FF90C5"/><stop offset="0.4000" stop-color="#FF8BC3"/><stop offset="0.4167" stop-color="#FF86C0"/><stop offset="0.4333" stop-color="#FF80BE"/><stop offset="0.4500" stop-color="#FF7BBB"/><stop offset="0.4667" stop-color="#FF75B9"/><stop offset="0.4833" stop-color="#FF6FB6"/><stop offset="0.5000" stop-color="#FF69B4"/><stop offset="0.5167" stop-color="#FC67B1"/><stop offset="0.5333" stop-color="#FA65AE"/><stop offset="0.5500" stop-color="#F763AB"/><stop offset="0.5667" stop-color="#F461A8"/><stop offset="0.5833" stop-color="#F25FA5"/><stop offset="0.6000" stop-color="#EF5EA2"/><stop offset="0.6167" stop-color="#EC5CA0"/><stop offset="0.6333" stop-color="#EA5A9D"/><stop offset="0.6500" stop-color="#E7589A"/><stop offset="0.6667" stop-color="#E45697"/><stop offset="0.6833" stop-color="#E25494"/><stop offset="0.7000" stop-color="#DF5291"/><stop offset="0.7167" stop-color="#DC508E"/><stop offset="0.7333" stop-color="#DA4E8C"/><stop offset="0.7500" stop-color="#D74C89"/><stop offset="0.7667" stop-color="#D54B86"/><stop offset="0.7833" stop-color="#D24983"/><stop offset="0.8000" stop-color="#CF4780"/><stop offset="0.8167" stop-color="#CD457E"/><stop offset="0.8333" stop-color="#CA437B"/><stop offset="0.8500" stop-color="#C74178"/><stop offset="0.8667" stop-color="#C53F75"/><stop offset="0.8833" stop-color="#C23D73"/><stop offset="0.9000" stop-color="#C03B70"/><stop offset="0.9167" stop-color="#BD3A6D"/><stop offset="0.9333" stop-color="#BA386B"/><stop offset="0.9500" stop-color="#B83668"/><stop offset="0.9667" stop-color="#B53465"/><stop offset="0.9833" stop-color="#B33263"/><stop offset="1.0000" stop-color="#B03060"/></linearGradient></defs>
<rect x="1181" y="469.8" width="46.1" height="229.8" fill="url(#cb)"/>
<text x="1241.7" y="698.92" font-size="23.47" fill="#000">10</text>
<text x="1241.7" y="654.78" font-size="23.47" fill="#000">15</text>
<text x="1241.7" y="610.63" font-size="23.47" fill="#000">20</text>
<text x="1241.7" y="566.49" font-size="23.47" fill="#000">25</text>
<text x="1241.7" y="522.34" font-size="23.47" fill="#000">30</text>
<text x="1241.7" y="478.20" font-size="23.47" fill="#000">35</text>
<path d="M1181 690.47h9.2M1227.1 690.47h-9.2M1181 646.33h9.2M1227.1 646.33h-9.2M1181 602.18h9.2M1227.1 602.18h-9.2M1181 558.04h9.2M1227.1 558.04h-9.2M1181 513.89h9.2M1227.1 513.89h-9.2M1181 469.75h9.2M1227.1 469.75h-9.2" stroke="#FFFFFF" stroke-width="1.1" fill="none"/>
</svg></body></html>
